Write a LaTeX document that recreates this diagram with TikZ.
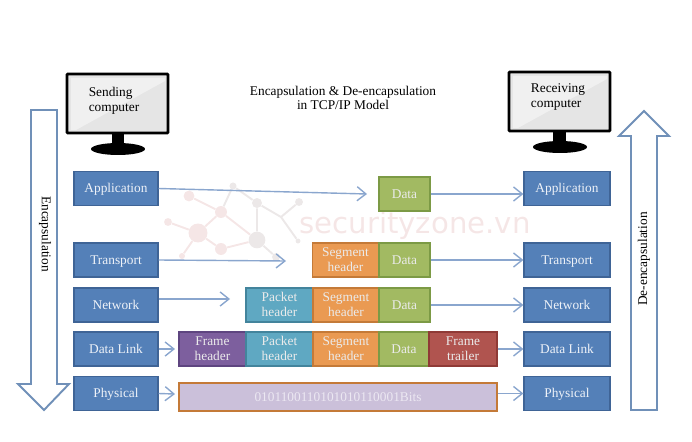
\documentclass[tikz,border=0pt]{standalone}
\usepackage{fontspec}
\setmainfont{Liberation Serif}
\newfontfamily\markfont{DejaVu Sans}
\usetikzlibrary{arrows.meta,shapes.geometric}
\definecolor{layerblue}{HTML}{5480B8}
\definecolor{layeredge}{HTML}{3F6496}
\definecolor{flowblue}{HTML}{8AA6CE}
\definecolor{bigedge}{HTML}{7090B8}
\definecolor{markpink}{HTML}{F5E6E6}
\definecolor{markgrey}{HTML}{ECE8E8}
\definecolor{cgreen}{HTML}{A2BA62}
\definecolor{egreen}{HTML}{7C9A45}
\definecolor{corange}{HTML}{EA9A52}
\definecolor{eorange}{HTML}{C47A38}
\definecolor{cteal}{HTML}{5FA8C2}
\definecolor{eteal}{HTML}{43849C}
\definecolor{cpurple}{HTML}{7D5F9E}
\definecolor{epurple}{HTML}{5E4580}
\definecolor{cred}{HTML}{B0544F}
\definecolor{ered}{HTML}{8F3A36}
\definecolor{clilac}{HTML}{CBC0DA}
\definecolor{bitstext}{HTML}{ECE8F2}
\newcommand{\boxfont}{\fontsize{7.6}{8.4}\selectfont}
\tikzset{
  layer/.style={rectangle,draw=layeredge,fill=layerblue,line width=0.7pt,text=white!90!layerblue,
    minimum height=0.68cm,inner sep=0pt,font=\boxfont,text height=5pt,text depth=0pt},
  layerL/.style={layer,minimum width=1.68cm},
  layerR/.style={layer,minimum width=1.72cm},
  cell/.style={rectangle,line width=0.7pt,text=white!92!black,minimum height=0.68cm,inner sep=0pt,
    align=center,font=\boxfont,text height=5pt,text depth=0pt},
  twoline/.style={cell,text height=13pt},
  greencell/.style={cell,draw=egreen,fill=cgreen,minimum width=1.02cm},
  orangecell/.style={twoline,draw=eorange,fill=corange,minimum width=1.32cm},
  tealcell/.style={twoline,draw=eteal,fill=cteal,minimum width=1.34cm},
  purplecell/.style={twoline,draw=epurple,fill=cpurple,minimum width=1.34cm},
  redcell/.style={twoline,draw=ered,fill=cred,minimum width=1.36cm},
  bitsbar/.style={rectangle,draw=eorange,fill=clilac,line width=0.7pt,inner sep=0pt,font=\boxfont,
    minimum width=6.36cm,minimum height=0.56cm,text height=5pt,text depth=0pt},
  flow/.style={draw=flowblue,line width=0.8pt,-{Straight Barb[length=5pt,width=8pt]}},
  bigarrow/.style={draw=bigedge,fill=white,line width=1.1pt,line join=miter},
  dot/.style={circle,inner sep=0pt,fill=markpink},
  dotg/.style={circle,inner sep=0pt,fill=markgrey},
  stand/.style={ellipse,fill=black,minimum width=1.08cm,minimum height=0.24cm,inner sep=0pt},
  label/.style={font=\boxfont,inner sep=0pt},
}
\begin{document}
\begin{tikzpicture}[x=0.02cm,y=-0.02cm]
  \useasboundingbox (0,0) rectangle (692,442);
  % background mark
  \node[dot,minimum size=6.2pt] (m1) at (189,196) {};
  \node[dot,minimum size=4.5pt] (m2) at (168,222) {};
  \node[dot,minimum size=10.8pt] (m3) at (198,233) {};
  \node[dot,minimum size=6.8pt] (m4) at (221,212) {};
  \node[dotg,minimum size=4pt] (m5) at (233,186) {};
  \node[dotg,minimum size=5.7pt] (m6) at (257,203) {};
  \node[dotg,minimum size=9.5pt] (m7) at (257,240) {};
  \node[dotg,minimum size=4.5pt] (m8) at (299,202) {};
  \coordinate (m9) at (281,217);
  \node[dotg,minimum size=2.8pt] (m10) at (298,241) {};
  \node[dot,minimum size=6.8pt] (m11) at (221,249) {};
  \node[dot,minimum size=3.4pt] (m12) at (182,256) {};
  \node[dotg,minimum size=4.5pt] (m13) at (276,257) {};
  \draw[markpink,line width=1.1pt] (m1) -- (m4) -- (m3) -- (m2);
  \draw[markpink,line width=1.1pt] (m3) -- (m12);
  \draw[markpink,line width=1.1pt] (m3) -- (m11) -- (m7);
  \draw[markgrey,line width=1.1pt] (m4) -- (m5) -- (m6) -- (m9) -- (m8);
  \draw[markgrey,line width=1.1pt] (m9) -- (m10);
  \draw[markgrey,line width=1.1pt] (m6) -- (m7) -- (m13);
  \draw[markpink,line width=1.1pt] (m4) -- (m7);
  \node[text=markpink,font=\markfont\fontsize{16.6}{17}\selectfont] (mark) at (415,225) {securityzone.vn};

  % sending computer
  \fill (112,134) rectangle (124,148);
  \node[stand] (baseS) at (118,149) {};
  \draw[black,line width=1.6pt,fill=black!10,rounded corners=0.5pt] (67,74) rectangle (168,133);
  \fill[black!6] (71,78) -- (165,78) -- (165,81) -- (76,130) -- (71,130) -- cycle;
  \node[label,align=left] (sending) at (114,101) {Sending\\computer};
  % receiving computer
  \fill (553,132) rectangle (566,146);
  \node[stand] (baseR) at (560,147) {};
  \draw[black,line width=1.6pt,fill=black!10,rounded corners=0.5pt] (509,72) rectangle (610,131);
  \fill[black!6] (513,76) -- (607,76) -- (607,79) -- (518,128) -- (513,128) -- cycle;
  \node[label,align=left] (receiving) at (558,97) {Receiving\\computer};

  \node[label,align=center] (title) at (343,98) {Encapsulation \& De-encapsulation\\in TCP/IP Model};

  % the two big arrows
  \draw[bigarrow] (31,110) -- (57,110) -- (57,384) -- (69,384) -- (44,410) -- (18,384) -- (31,384) -- cycle;
  \node[label,rotate=-90] (encap) at (45,234) {Encapsulation};
  \draw[bigarrow] (631,410) -- (657,410) -- (657,136) -- (669,136) -- (644,111) -- (619,136) -- (631,136) -- cycle;
  \node[label,rotate=90] (decap) at (644,259) {De-encapsulation};

  % layers
  \node[layerL] (appL) at (116,188.5) {Application};
  \node[layerL] (transL) at (116,260) {Transport};
  \node[layerL] (netL) at (116,305) {Network};
  \node[layerL] (linkL) at (116,349) {Data Link};
  \node[layerL] (physL) at (116,393.5) {Physical};
  \node[layerR] (appR) at (567,188.5) {Application};
  \node[layerR] (transR) at (567,260) {Transport};
  \node[layerR] (netR) at (567,305) {Network};
  \node[layerR] (linkR) at (567,349) {Data Link};
  \node[layerR] (physR) at (567,393.5) {Physical};

  % headers and data
  \node[greencell] (data1) at (404.5,194) {Data};
  \node[orangecell] (seg2) at (345.5,260) {Segment\\header};
  \node[greencell] (data2) at (404.5,260) {Data};
  \node[tealcell] (pack3) at (279.5,305) {Packet\\header};
  \node[orangecell] (seg3) at (346,305) {Segment\\header};
  \node[greencell] (data3) at (404.5,305) {Data};
  \node[purplecell] (frame4) at (212.5,349) {Frame\\header};
  \node[tealcell] (pack4) at (279.5,349) {Packet\\header};
  \node[orangecell] (seg4) at (346,349) {Segment\\header};
  \node[greencell,minimum width=1cm] (data4) at (404,349) {Data};
  \node[redcell] (trail4) at (463,349) {Frame\\trailer};
  \node[bitsbar,text=bitstext] (bits) at (338,397) {0101100110101010110001Bits};

  % free ends of the arrows on the sending side
  \coordinate (appEnd) at (367,194);
  \coordinate (transEnd) at (286,261);
  \coordinate (netEnd) at (230,299);
  \coordinate (linkEnd) at (175,349);
  \coordinate (physEnd) at (175,394);
  \draw[flow] (appL.east) -- (appEnd);
  \draw[flow] (transL.east) -- (transEnd);
  \draw[flow] (netL.east |- netEnd) -- (netEnd);
  \draw[flow] (linkL.east) -- (linkEnd);
  \draw[flow] (physL.east) -- (physEnd);
  \draw[flow] (data1.east) -- (appR.west |- data1.east);
  \draw[flow] (data2.east) -- (transR.west);
  \draw[flow] (data3.east) -- (netR.west);
  \draw[flow] (trail4.east) -- (linkR.west);
  \draw[flow] (bits.east |- physR.west) -- (physR.west);
\end{tikzpicture}
\end{document}
